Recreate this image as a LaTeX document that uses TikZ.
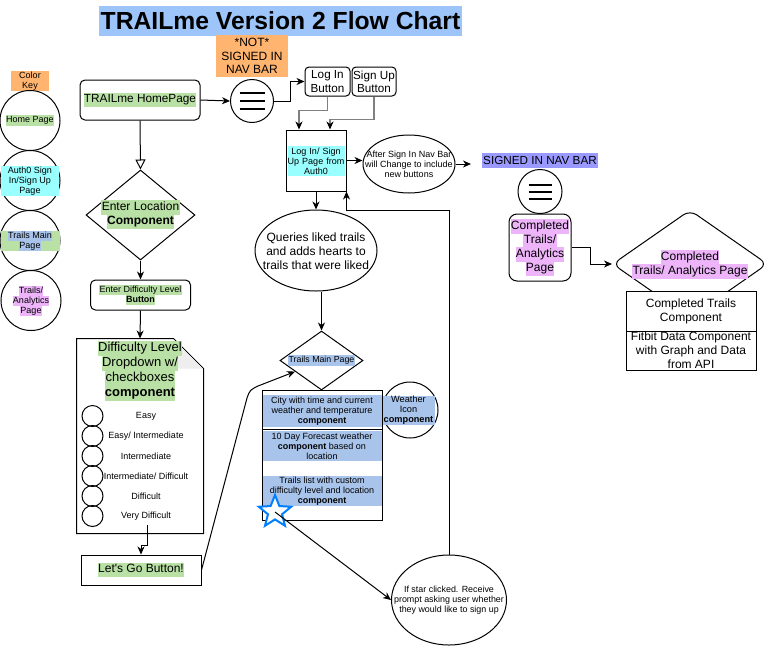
\documentclass[tikz,border=0pt]{standalone}
\usepackage{fontspec}
\setmainfont{Liberation Sans}
\usetikzlibrary{arrows.meta,shapes.geometric,calc}
\definecolor{hgreen}{HTML}{B9E0A5}
\definecolor{hcyan}{HTML}{99FFFF}
\definecolor{hblue}{HTML}{A9C4EB}
\definecolor{hpink}{HTML}{EEB4FA}
\definecolor{korange}{HTML}{FFB570}
\definecolor{titleblue}{HTML}{9EC5FA}
\definecolor{hsigned}{HTML}{9999FF}
\definecolor{starblue}{HTML}{007FFF}
\definecolor{linkgray}{HTML}{808080}
\definecolor{foldgray}{HTML}{EEEEEE}
\setlength{\fboxsep}{0.4pt}
\setlength{\lineskiplimit}{-50pt}
\newcommand\hlbox[2]{\colorbox{#1}{\strut #2}}
\newcommand\setfs[2]{\fontsize{#1}{#2}\selectfont}
\begin{document}
\begin{tikzpicture}[x=1pt,y=-1pt,line width=1pt,
  arr/.style={-{Stealth[length=8pt,width=7pt,inset=2.5pt,color=black]}},
  openarr/.style={-{Triangle[open,length=10pt,width=10pt,fill=white]}},
  rbox/.style={draw,rounded corners=5pt,inner sep=0,align=center},
  pbox/.style={draw,inner sep=0,align=center},
  lbl/.style={inner sep=0,align=center},
  graylink/.style={draw=linkgray,line width=1.4pt},
  hamb/.style={line width=1.2pt}]
\useasboundingbox (0,0) rectangle (771,646);

% title
\node[fill=titleblue,inner sep=0,minimum width=363,minimum height=30,font=\bfseries\setfs{24.7}{28}] (title) at (280.5,21) {TRAILme Version 2 Flow Chart};

% colour key
\node[fill=korange,inner sep=0,minimum width=38,minimum height=20,align=center,font=\setfs{9}{10}] (keyt) at (30,81) {Color\\Key};
\node[circle,draw,minimum size=60,inner sep=0] (k1) at (30,120.5) {};
\node[lbl,font=\setfs{9}{10}] (k1t) at (30,120.5) {\hlbox{hgreen}{Home Page}};
\node[circle,draw,minimum size=60,inner sep=0] (k2) at (30,180.5) {};
\node[lbl,fill=hcyan,minimum width=58,minimum height=30,font=\setfs{9}{10}] (k2t) at (30,181) {Auth0 Sign\\In/Sign Up\\Page};
\node[circle,draw,minimum size=60,inner sep=0] (k3) at (30,240.5) {};
\node[fill=hgreen,minimum width=59,minimum height=20,inner sep=0] (k3bg) at (30.5,241) {};
\node[lbl,font=\setfs{9}{10}] (k3t) at (30,241) {\hlbox{hblue}{Trails Main}\\\hlbox{hblue}{Page}};
\node[circle,draw,minimum size=60,inner sep=0] (k4) at (31,300.5) {};
\node[lbl,font=\setfs{9}{10}] (k4t) at (31,301) {\hlbox{hpink}{Trails/}\\\hlbox{hpink}{Analytics}\\\hlbox{hpink}{Page}};

% home page and not signed in nav bar
\node[rbox,minimum width=120,minimum height=40,font=\setfs{11.8}{14}] (home) at (140,100) {\hlbox{hgreen}{TRAILme HomePage}};
\node[circle,draw,minimum size=43,inner sep=0] (nav1) at (252,101) {};
\draw[hamb] ($(nav1)+(-12.5,-8)$) -- ++(25,0);
\draw[hamb] ($(nav1)+(-12.5,0)$) -- ++(25,0);
\draw[hamb] ($(nav1)+(-12.5,8)$) -- ++(25,0);
\node[fill=korange,inner sep=0,minimum width=72,minimum height=42,align=center,font=\setfs{12}{13.3}] (notsigned) at (252,56) {*NOT*\\SIGNED IN\\NAV BAR};
\node[rbox,rounded corners=4pt,minimum width=45,minimum height=29,font=\setfs{11.7}{13.3}] (login) at (327.5,81.5) {Log In\\Button};
\node[rbox,rounded corners=4pt,minimum width=44,minimum height=29,font=\setfs{11.7}{13.3}] (signup) at (374,81.5) {Sign Up\\Button};

% auth0
\node[pbox,minimum width=60,minimum height=61] (auth0) at (316,160.5) {};
\node[lbl,fill=hcyan,text width=57,minimum height=30,font=\setfs{9}{10}] (auth0t) at (316,161) {Log In/ Sign\\Up Page from\\Auth0};
\node[ellipse,draw,minimum width=92,minimum height=58,inner sep=0] (after) at (409,164) {};
\node[lbl,font=\setfs{9}{10}] (aftert) at (409,164) {After Sign In Nav Bar\\will Change to include\\new buttons};
\coordinate (afterend) at (471,164);

% signed in nav bar
\node[fill=hsigned,inner sep=0,minimum width=116,minimum height=15,font=\setfs{11.7}{13}] (signed) at (540,160) {SIGNED IN NAV BAR};
\node[circle,draw,minimum size=44,inner sep=0] (nav2) at (540,191.5) {};
\draw[hamb] ($(nav2)+(-11.5,-6.5)$) -- ++(23,0);
\draw[hamb] ($(nav2)+(-11.5,0.5)$) -- ++(23,0);
\draw[hamb] ($(nav2)+(-11.5,7.5)$) -- ++(23,0);
\node[rbox,rounded corners=8pt,minimum width=62,minimum height=67,font=\setfs{12}{14}] (compl) at (540,247.5) {\hlbox{hpink}{Completed}\\\hlbox{hpink}{Trails/}\\\hlbox{hpink}{Analytics}\\\hlbox{hpink}{Page}};
\node[diamond,draw,rounded corners=8pt,minimum width=155,minimum height=108,inner sep=0] (diam2) at (690,264) {};
\node[lbl,font=\setfs{12}{14}] (diam2t) at (690,264.5) {\hlbox{hpink}{Completed}\\\hlbox{hpink}{Trails/ Analytics Page}};
\node[pbox,fill=white,minimum width=130,minimum height=40,font=\setfs{12}{14}] (tab1) at (691,311) {Completed Trails\\Component};
\node[pbox,fill=white,minimum width=130,minimum height=39,font=\setfs{12}{14}] (tab2) at (691,350.5) {Fitbit Data Component\\with Graph and Data\\from API};

% left column
\node[diamond,draw,minimum width=109,minimum height=90,inner sep=0] (locd) at (140.5,215) {};
\node[lbl,font=\setfs{12}{14}] (locdt) at (140.5,214.5) {\hlbox{hgreen}{Enter Location}\\\hlbox{hgreen}{\textbf{Component}}};
\node[rbox,minimum width=100,minimum height=30,font=\setfs{9}{10}] (diffb) at (140.5,295) {\hlbox{hgreen}{Enter Difficulty Level}\\\hlbox{hgreen}{\textbf{Button}}};

\node[minimum width=126,minimum height=194,inner sep=0] (doc) at (140,436) {};
\draw[fill=white] (doc.north west) -- ++(97,0) -- ($(doc.north east)+(0,30)$) -- (doc.south east) -- (doc.south west) -- cycle;
\fill[foldgray] ($(doc.north west)+(97,0.8)$) -- ($(doc.north east)+(-0.8,30)$) -- ($(doc.north west)+(97,30)$) -- cycle;
\node[lbl,font=\setfs{13}{15}] (doct) at (140,371) {\hlbox{hgreen}{Difficulty Level}\\\hlbox{hgreen}{Dropdown w/}\\\hlbox{hgreen}{checkboxes}\\\hlbox{hgreen}{\textbf{component}}};
\node[circle,draw,minimum size=21,inner sep=0] (c1) at (92.5,416) {};
\node[circle,draw,minimum size=21,inner sep=0] (c2) at (92.5,436) {};
\node[circle,draw,minimum size=21,inner sep=0] (c3) at (92.5,456) {};
\node[circle,draw,minimum size=21,inner sep=0] (c4) at (92.5,476) {};
\node[circle,draw,minimum size=21,inner sep=0] (c5) at (92.5,496) {};
\node[circle,draw,minimum size=21,inner sep=0] (c6) at (92.5,516) {};
\node[lbl,font=\setfs{9}{10}] (l1) at (146,416) {Easy};
\node[lbl,font=\setfs{9}{10}] (l2) at (146,436) {Easy/ Intermediate};
\node[lbl,font=\setfs{9}{10}] (l3) at (146,456) {Intermediate};
\node[lbl,font=\setfs{9}{10}] (l4) at (146,476) {Intermediate/ Difficult};
\node[lbl,font=\setfs{9}{10}] (l5) at (146,496) {Difficult};
\node[lbl,font=\setfs{9}{10}] (l6) at (146,516) {Very Difficult};
\coordinate (dstart) at (147,525);
\node[pbox,minimum width=120,minimum height=30,font=\setfs{12}{14}] (letsgo) at (141,570) {\hlbox{hgreen}{Let\textquotesingle s Go Button!}};

% middle column
\node[ellipse,draw,minimum width=122,minimum height=81,inner sep=0] (queries) at (316,250.5) {};
\node[lbl,font=\setfs{12}{14}] (queriest) at (316,251) {Queries liked trails\\and adds hearts to\\trails that were liked};
\node[diamond,draw,minimum width=83,minimum height=59,inner sep=0] (tmain) at (321.5,360.5) {};
\node[lbl,font=\setfs{8.8}{10}] (tmaint) at (321.5,360.5) {\hlbox{hblue}{Trails Main Page}};
\node[circle,draw,minimum size=56,inner sep=0] (wicon) at (410,410) {};
\node[lbl,fill=hblue,minimum width=53,minimum height=29,font=\setfs{9.2}{10}] (wicont) at (408.5,410.5) {Weather\\Icon\\\textbf{component}};
\node[pbox,minimum width=120,minimum height=130] (wtab) at (322,455) {};
\draw ($(wtab.north west)+(0,40)$) -- ($(wtab.north east)+(0,40)$);
\node[lbl,fill=hblue,minimum width=119,minimum height=32,font=\setfs{9}{10}] (w1) at (322,411) {City with time and current\\weather and temperature\\\textbf{component}};
\node[lbl,fill=hblue,minimum width=119,minimum height=30,font=\setfs{9}{10}] (w2) at (322,446) {10 Day Forecast weather\\\textbf{component} based on\\location};
\node[lbl,fill=hblue,minimum width=119,minimum height=30,font=\setfs{9}{10}] (w3) at (322,491) {Trails list with custom\\difficulty level and location\\\textbf{component}};
\node[star,star points=5,star point ratio=2.3,draw=starblue,fill=white,line width=2pt,minimum size=34,inner sep=0] (star) at (275,512) {};
\node[ellipse,draw,minimum width=115,minimum height=90,inner sep=0] (prompt) at (449,600) {};
\node[lbl,font=\setfs{8.9}{10}] (promptt) at (449,600) {If star clicked. Receive\\prompt asking user whether\\they would like to sign up};
\coordinate (ret) at (449,210.5);
\coordinate (tmtip) at ($(tmain.west)!0.37!(tmain.south)$);

% connectors
\draw[arr] (home.east) -- (nav1.west);
\draw[arr] (nav1.east) -- ++(16,0) |- (login.west);
\draw[arr,graylink] (login.south) -- ++(0,14) -| ([xshift=-17pt]auth0.north);
\draw[arr,graylink] (signup.south) -- ++(0,23) -| ([xshift=14pt]auth0.north);
\draw[arr] (auth0.east) -- (auth0.east -| after.west);
\draw[arr] (after.east) -- (afterend);
\draw[arr] (compl.east) -- ++(19,0) |- (diam2.west);
\draw[openarr] (home.south) -- (locd.north);
\draw[arr] (locd.south) -- (diffb.north);
\draw[arr] (diffb.south) -- (doc.north);
\draw[arr] (dstart) -- ++(0,20) -| (letsgo.north);
\draw[arr] (letsgo.east) -- (247,398) .. controls (250,390) .. (258,386) -- (tmtip);
\draw[arr] (auth0.south) -- (queries.north);
\draw[arr] (queries.south -| tmain.north) -- (tmain.north);
\draw[arr] (star.center) -- (prompt.west);
\draw[arr] (prompt.north) -- (ret) -| (auth0.south east);
\end{tikzpicture}
\end{document}
